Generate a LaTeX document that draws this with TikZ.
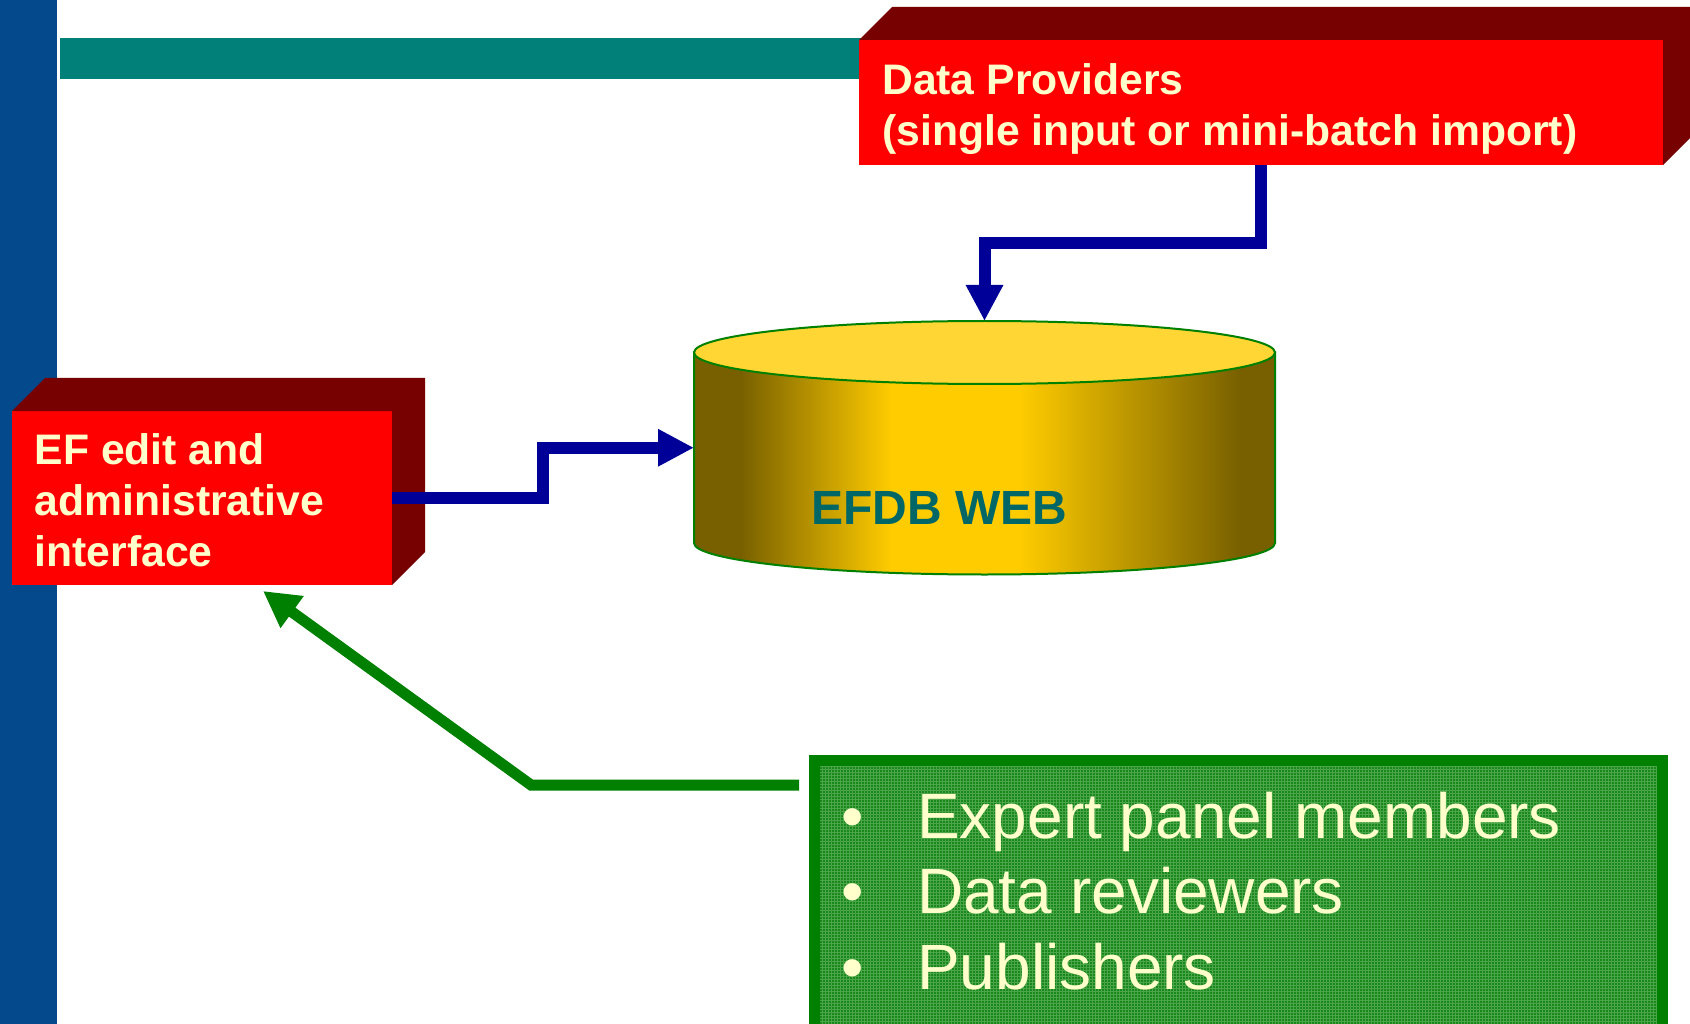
\documentclass[tikz,border=0pt]{standalone}
\usepackage{fontspec}
\setmainfont{Liberation Sans}
\usetikzlibrary{positioning,calc,arrows.meta,patterns}
\usepackage{xcolor}

\definecolor{barblue}{RGB}{3,73,140}
\definecolor{barteal}{RGB}{0,128,120}
\definecolor{boxred}{RGB}{255,0,0}
\definecolor{boxdark}{RGB}{119,0,0}
\definecolor{cream}{RGB}{255,255,204}
\definecolor{arrowblue}{RGB}{0,0,153}
\definecolor{linegreen}{RGB}{0,128,0}
\definecolor{cyldark}{RGB}{120,96,0}
\definecolor{cylgold}{RGB}{255,204,0}
\definecolor{cyltop}{RGB}{255,214,51}
\definecolor{webteal}{RGB}{0,102,102}
\definecolor{patbase}{RGB}{25,135,25}
\definecolor{patlight}{RGB}{75,165,75}

\pgfdeclarehorizontalshading{cylside}{100bp}{color(0bp)=(cyldark); color(29bp)=(cyldark); color(42bp)=(cylgold); color(53bp)=(cylgold); color(72bp)=(cyldark); color(100bp)=(cyldark)}

\begin{document}
\begin{tikzpicture}[x=1pt, y=-1pt,
  frontface/.style={fill=boxred, inner sep=0, outer sep=0, anchor=north west},
  boxtext/.style={anchor=base west, inner sep=0, align=left, text=cream, font=\bfseries\fontsize{42.7}{51}\selectfont},
  bluearrow/.style={draw=arrowblue, line width=12, -{Triangle[length=36, width=35]}},
  greenarrow/.style={draw=linegreen, line width=11, -{Triangle[length=36, width=37]}}]

\useasboundingbox (0,0) rectangle (1690,1024);

% bars
\fill[barblue] (0,0) rectangle (57,1024);
\fill[barteal] (60,38) rectangle (870,79);

% data providers box
\node[frontface, minimum width=804, minimum height=125] (providers) at (859,40) {};
\fill[boxdark] (providers.north west) -- ++(33,-33) -- ($(providers.north east)+(33,-33)$) -- ($(providers.south east)+(33,-33)$) -- (providers.south east) -- (providers.north east) -- cycle;
\node[boxtext] (providerstext) at ($(providers.north west)+(23,105.5)$) {Data Providers\\(single input or mini-batch import)};

% edit box
\node[frontface, minimum width=380, minimum height=174] (editor) at (12,411) {};
\fill[boxdark] (editor.north west) -- ++(33,-33) -- ($(editor.north east)+(33,-33)$) -- ($(editor.south east)+(33,-33)$) -- (editor.south east) -- (editor.north east) -- cycle;
\node[boxtext] (editortext) at ($(editor.north west)+(22.5,155)$) {EF edit and\\administrative\\interface};

% database
\node[anchor=north west, inner sep=0, outer sep=0, minimum width=581, minimum height=253.5] (efdb) at (694,321) {};
\shade[shading=cylside, draw=linegreen, line width=2] (694,352.5) -- (694,543) arc[start angle=180, end angle=0, x radius=290.5, y radius=31.5] -- (1275,352.5) -- cycle;
\draw[fill=cyltop, draw=linegreen, line width=2] (984.5,352.5) ellipse [x radius=290.5, y radius=31.5];
\node[anchor=base west, inner sep=0, text=webteal, font=\bfseries\fontsize{48}{56}\selectfont] (efdbtext) at ($(efdb.west)+(117,77)$) {EFDB WEB};

% users box
\node[anchor=north west, inner sep=0, minimum width=848, minimum height=300, draw=linegreen, line width=11, preaction={fill=patbase}, pattern=grid, pattern color=patlight] (users) at (809,755) {};
\node[anchor=base west, inner sep=0, align=left, text=cream, font=\fontsize{64}{75.5}\selectfont] (userlist) at (841,989) {\makebox[76pt][l]{\textbullet}Expert panel members\\\makebox[76pt][l]{\textbullet}Data reviewers\\\makebox[76pt][l]{\textbullet}Publishers};

% connectors
\draw[bluearrow] (providers.south) -- ++(0,78.5) -| (efdb.north);
\draw[bluearrow] (editor.east) -- ++(151,0) |- (efdb.west);
\draw[greenarrow] ($(users.north west)+(-10,30)$) -- ++(-268,0) -- ($(editor.south west)+(251,6)$);

\end{tikzpicture}
\end{document}
